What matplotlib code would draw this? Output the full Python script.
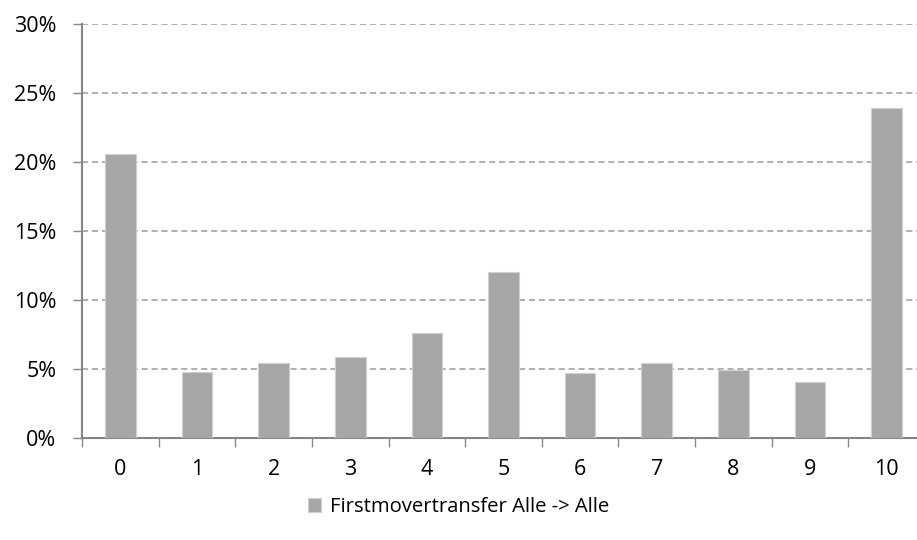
import matplotlib.pyplot as plt
from matplotlib.ticker import PercentFormatter

categories = ['0', '1', '2', '3', '4', '5', '6', '7', '8', '9', '10']
values = [20.6, 4.78, 5.43, 5.87, 7.63, 12.03, 4.75, 5.45, 4.97, 4.1, 23.9]
series_name = 'Firstmovertransfer Alle -> Alle'
yticks = [0, 5, 10, 15, 20, 25, 30]

plt.rcParams['font.family'] = ['Open Sans', 'DejaVu Sans']

fig = plt.figure(figsize=(9.17, 5.40), dpi=100)
ax = fig.add_axes([0.0894, 0.1883, 0.9193, 0.7673])

x = list(range(len(categories)))
ax.bar(x, values, width=0.4, color='#A6A6A6', edgecolor='#D0D0D0',
       linewidth=0.8, label=series_name, zorder=3)

ax.set_xlim(-0.5, len(categories) - 0.5)
ax.set_ylim(0, 30)
ax.set_yticks(yticks)
ax.yaxis.set_major_formatter(PercentFormatter(decimals=0))
ax.grid(axis='y', linestyle=(0, (4, 2.5)), color='#9A9A9A', linewidth=1.1, zorder=0)

# x ticks sit on the category boundaries, labels in the middle
ax.set_xticks([i - 0.5 for i in x])
ax.set_xticklabels([])
ax.set_xticks(x, minor=True)
ax.set_xticklabels(categories, minor=True)
ax.tick_params(axis='x', which='major', length=6.5, color='#868686', width=1, direction='out')
ax.tick_params(axis='x', which='minor', length=0, pad=15, labelsize=15.5)
ax.tick_params(axis='y', length=6.5, color='#868686', width=1, pad=12, labelsize=15.5)

for side in ['top', 'right']:
    ax.spines[side].set_visible(False)
for side in ['left', 'bottom']:
    ax.spines[side].set_color('#868686')
    ax.spines[side].set_linewidth(1.5)

fig.legend(loc='center', bbox_to_anchor=(0.5, 0.061), frameon=False,
           fontsize=14.6, handlelength=0.65, handleheight=0.65, handletextpad=0.45)

plt.savefig('out.png', dpi=100)
